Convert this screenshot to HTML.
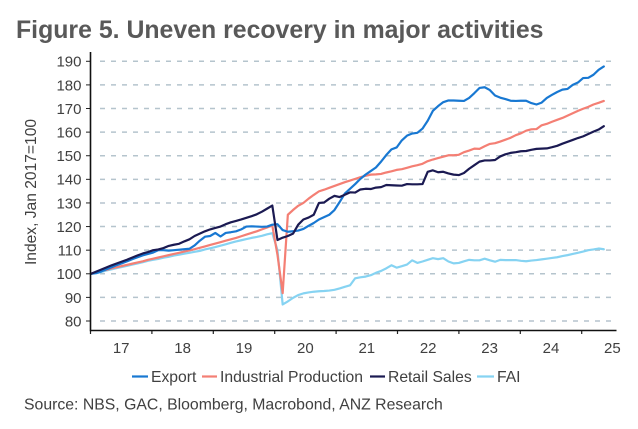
<!DOCTYPE html>
<html lang="en">
<head>
<meta charset="utf-8">
<title>Figure 5. Uneven recovery in major activities</title>
<style>
html,body{margin:0;padding:0;background:#fff;width:638px;height:429px;overflow:hidden}
svg{display:block;font-family:"Liberation Sans",Arial,sans-serif}
</style>
</head>
<body>
<svg id="chart" width="638" height="429" viewBox="0 0 638 429" xmlns="http://www.w3.org/2000/svg">
<rect x="0" y="0" width="638" height="429" fill="#fff"/>
<text x="16" y="38" font-size="24.85" font-weight="bold" fill="#595959">Figure 5. Uneven recovery in major activities</text>
<text transform="translate(36,192) rotate(-90)" text-anchor="middle" font-size="15.6" fill="#404040">Index, Jan 2017=100</text>
<g id="grid"></g>
<g id="series"></g>
<g id="axes"></g>
<g font-size="15.7" fill="#404040">
<g><line x1="132" x2="148" y1="376.5" y2="376.5" stroke="#1878d2" stroke-width="2.2"/><text x="151" y="382">Export</text></g>
<g><line x1="202" x2="217" y1="376.5" y2="376.5" stroke="#f47f74" stroke-width="2.2"/><text x="220" y="382">Industrial Production</text></g>
<g><line x1="370" x2="385" y1="376.5" y2="376.5" stroke="#1b1a52" stroke-width="2.2"/><text x="388" y="382">Retail Sales</text></g>
<g><line x1="477" x2="494" y1="376.5" y2="376.5" stroke="#86d3f2" stroke-width="2.2"/><text x="497" y="382">FAI</text></g>
</g>
<text x="24" y="409.5" font-size="15.8" fill="#404040">Source: NBS, GAC, Bloomberg, Macrobond, ANZ Research</text>
</svg>
<script>
const yTicks = [80, 90, 100, 110, 120, 130, 140, 150, 160, 170, 180, 190];
const yearLabels = ['17', '18', '19', '20', '21', '22', '23', '24', '25'];
const exportValues = [100,100.3,101,101.9,102.8,103.7,104.5,105.3,106.2,107,107.8,108.4,109,110,110,109.8,110,110.2,110.4,110.6,112,114,115.7,116,117.3,115.8,117.3,117.6,118,118.8,120,120.1,120,119.9,120,120.8,121,118.5,117.8,118,118.3,119,120.3,121.5,123,124,125,127,130.4,134,136,138,140.2,142,143.5,145,147.5,150.3,152.7,153.5,156.5,158.5,159.4,159.7,161.5,164.8,169,171,172.7,173.4,173.4,173.3,173.2,174.5,176.5,178.7,179,177.8,175.5,174.6,174,173.3,173.2,173.3,173.3,172.3,171.7,172.5,174.5,175.8,177,178,178.3,180,181,182.9,183,184.3,186.4,187.8];
const industrialValues = [100,100.6,101.2,101.7,102.3,102.8,103.3,103.8,104.3,104.8,105.3,105.9,106.4,106.9,107.4,107.9,108.4,108.9,109.4,109.9,110.4,111,111.6,112.2,112.8,113.4,114,114.6,115.2,115.9,116.6,117.3,118,118.8,119.6,120.4,108,91.8,125,127,128.8,130,131.8,133.4,134.9,135.6,136.4,137.2,138,138.8,139.5,140.2,140.9,141.5,142,142.1,142.3,142.9,143.4,144,144.3,144.9,145.5,146,146.6,147.7,148.4,149,149.6,150.2,150.2,150.4,151.5,152.2,153,152.9,154,155,155.3,156,156.8,157.6,158.7,159.5,160.6,161.2,161.3,162.9,163.5,164.4,165.2,166,167,168,169,169.9,170.7,171.7,172.4,173.2];
const retailValues = [100,100.9,101.8,102.7,103.6,104.4,105.2,106,106.9,107.8,108.6,109.2,110,110.3,110.9,111.8,112.3,112.7,113.7,114.6,116,117,118,118.8,119.4,120,121,121.8,122.4,123,123.7,124.4,125.2,126.3,127.6,128.9,114.3,115.3,116,117,120.8,123,123.8,125,130,130.2,131.8,133,132.5,133.5,134.5,134.4,135.7,136,135.9,136.5,136.7,137.6,137.5,137.4,137.3,138,137.9,137.9,138,143.2,143.8,143,143.2,142.5,142,141.8,142.7,144.5,146,147.5,148,148,148.2,149.7,150.6,151.2,151.5,151.9,152,152.5,152.9,153,153.1,153.6,154.2,155.1,155.9,156.7,157.5,158.2,159.2,160.2,161.1,162.5];
const faiValues = [100,100.2,100.8,101.4,101.9,102.4,102.9,103.4,103.9,104.4,104.9,105.5,105.9,106.3,106.8,107.2,107.7,108.1,108.5,108.9,109.3,109.7,110.3,110.8,111.3,111.9,112.5,113.1,113.7,114.2,114.7,115.2,115.6,116.1,116.7,117.2,110,87,88.3,89.8,91,91.7,92.1,92.4,92.6,92.7,92.9,93.2,93.8,94.5,95.1,98.1,98.5,98.8,99.4,100.4,101.2,102.3,103.6,102.6,103.2,103.9,105.7,104.6,105.2,105.9,106.6,106.2,106.6,105.2,104.4,104.6,105.3,105.9,105.7,105.7,106.4,105.7,105.1,105.9,105.8,105.8,105.8,105.5,105.3,105.6,105.8,106.1,106.4,106.7,107,107.5,107.9,108.4,108.9,109.4,110,110.3,110.7,110.4];

const NS = 'http://www.w3.org/2000/svg';
const plotLeft = 90.5, plotRight = 616.5, plotBottom = 330.5, plotTop = 52;
function xScale(monthIndex) { return 91 + monthIndex * 5.18; }
function yScale(value) { return 321 - (value - 80) * 2.361; }
function yearTickX(yearIndex) { return plotLeft + yearIndex * 61.4; }
function make(tag, attrs, parent) {
  const el = document.createElementNS(NS, tag);
  for (const k in attrs) el.setAttribute(k, attrs[k]);
  parent.appendChild(el);
  return el;
}
const gridG = document.getElementById('grid');
const axesG = document.getElementById('axes');
const seriesG = document.getElementById('series');

yTicks.forEach(function (v) {
  const y = yScale(v);
  const g = make('line', {x1: 100, x2: plotRight, y1: y, y2: y, stroke: '#b5c4cd', 'stroke-width': 1.5, 'stroke-dasharray': '5 6'}, gridG);
  
  
  const t = make('line', {x1: 86, x2: plotLeft, y1: y, y2: y, stroke: '#222', 'stroke-width': 1}, axesG);
  
  
  const l = make('text', {x: 81.5, y: y + 5.4, 'text-anchor': 'end', 'font-size': 15, fill: '#404040'}, axesG);
  l.textContent = String(v);
  
  
});

yearLabels.forEach(function (label, i) {
  const x = yearTickX(i);
  const t = make('line', {x1: x, x2: x, y1: plotBottom, y2: 334, stroke: '#222', 'stroke-width': 1.2}, axesG);
  
  
  const l = make('text', {x: x + 30.7, y: 353, 'text-anchor': 'middle', 'font-size': 15, fill: '#404040'}, axesG);
  l.textContent = label;
  
  
});

const yAxisLine = make('line', {x1: plotLeft, x2: plotLeft, y1: plotTop, y2: plotBottom + 0.8, stroke: '#111', 'stroke-width': 1.6}, axesG);


const xAxisLine = make('line', {x1: plotLeft, x2: plotRight, y1: plotBottom, y2: plotBottom, stroke: '#111', 'stroke-width': 1.6}, axesG);



function drawSeries(values, color) {
  const pts = values.map(function (v, i) { return xScale(i).toFixed(2) + ',' + yScale(v).toFixed(2); }).join(' ');
  return make('polyline', {points: pts, fill: 'none', stroke: color, 'stroke-width': 2.2, 'stroke-linejoin': 'round', 'stroke-linecap': 'round'}, seriesG);
}
const faiLine = drawSeries(faiValues, '#86d3f2');


const industrialLine = drawSeries(industrialValues, '#f47f74');


const exportLine = drawSeries(exportValues, '#1878d2');


const retailLine = drawSeries(retailValues, '#1b1a52');


</script>
</body>
</html>
